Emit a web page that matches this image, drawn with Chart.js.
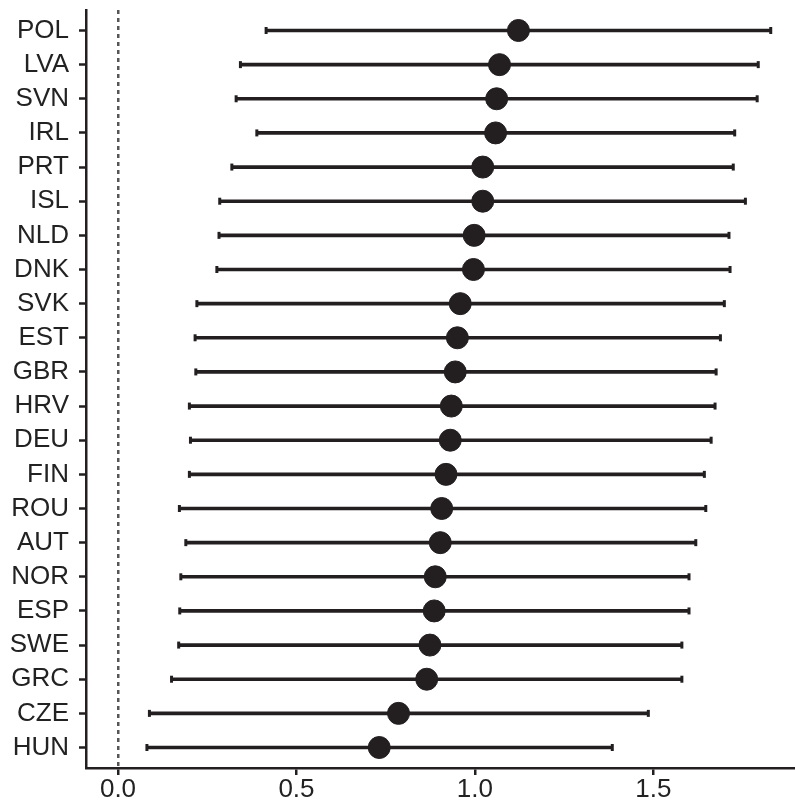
<!DOCTYPE html>
<html lang="en">
<head>
<meta charset="utf-8">
<script src="https://cdn.jsdelivr.net/npm/chart.js"></script>
<style>
  body { margin: 0; background: #fff; }
  canvas { display: block; }
</style>
</head>
<body>
  <canvas id="forestChart" width="795" height="805"></canvas>

<script>
    const countries = ['POL', 'LVA', 'SVN', 'IRL', 'PRT', 'ISL', 'NLD', 'DNK', 'SVK', 'EST', 'GBR',
                       'HRV', 'DEU', 'FIN', 'ROU', 'AUT', 'NOR', 'ESP', 'SWE', 'GRC', 'CZE', 'HUN']
    const estimate = [1.122, 1.069, 1.061, 1.058, 1.022, 1.022, 0.998, 0.996, 0.959, 0.951, 0.945,
                      0.934, 0.931, 0.919, 0.907, 0.903, 0.889, 0.886, 0.874, 0.865, 0.786, 0.732]
    const lower = [0.415, 0.343, 0.331, 0.389, 0.319, 0.285, 0.283, 0.277, 0.221, 0.216, 0.218,
                   0.200, 0.203, 0.200, 0.172, 0.190, 0.176, 0.173, 0.170, 0.150, 0.088, 0.081]
    const upper = [1.829, 1.794, 1.791, 1.728, 1.724, 1.758, 1.712, 1.715, 1.699, 1.688, 1.676,
                   1.673, 1.662, 1.643, 1.647, 1.619, 1.600, 1.600, 1.580, 1.580, 1.486, 1.385]
    const xTicks = [0, 0.5, 1.0, 1.5]

    const INK = '#231f20'
    const FONT = { family: "'Liberation Sans', Arial, sans-serif", size: 26 }

    const ctx = document.getElementById('forestChart')

    new Chart(ctx, {
      type: 'bar',
      data: {
        datasets: [
          {
            // whiskers
            data: countries.map((c, i) => ({ x: [lower[i], upper[i]], y: i })),
            backgroundColor: INK,
            borderWidth: 0,
            barThickness: 3,
            order: 3
          },
          {
            // lower caps
            type: 'line',
            data: countries.map((c, i) => ({ x: lower[i], y: i })),
            showLine: false,
            pointStyle: 'line',
            rotation: 90,
            pointRadius: 3.5,
            borderWidth: 3,
            borderColor: INK,
            order: 2
          },
          {
            // upper caps
            type: 'line',
            data: countries.map((c, i) => ({ x: upper[i], y: i })),
            showLine: false,
            pointStyle: 'line',
            rotation: 90,
            pointRadius: 3.5,
            borderWidth: 3,
            borderColor: INK,
            order: 2
          },
          {
            // point estimates
            type: 'line',
            data: countries.map((c, i) => ({ x: estimate[i], y: i })),
            showLine: false,
            pointRadius: 11,
            pointBackgroundColor: INK,
            pointBorderColor: INK,
            pointBorderWidth: 1,
            order: 1
          }
        ]
      },
      options: {
        indexAxis: 'y',
        responsive: false,
        animation: false,
        devicePixelRatio: 1,
        layout: { autoPadding: false, padding: { top: 10, right: 0, bottom: 0, left: 0 } },
        plugins: {
          legend: { display: false },
          tooltip: { enabled: false }
        },
        scales: {
          x: {
            type: 'linear',
            min: -0.0897,
            max: 1.897,
            afterBuildTicks: axis => { axis.ticks = xTicks.map(v => ({ value: v })) },
            afterFit: axis => {
              axis.height = 37
              axis.paddingLeft = 0
              axis.paddingRight = 0
            },
            ticks: {
              color: '#222',
              font: FONT,
              padding: -1,
              maxRotation: 0,
              autoSkip: false,
              callback: v => v.toFixed(1)
            },
            grid: {
              drawOnChartArea: true,
              color: c => (c.tick && c.tick.value === 0) ? '#555555' : 'rgba(0,0,0,0)',
              lineWidth: 2.5,
              tickColor: INK,
              tickLength: 7,
              tickWidth: 2.5
            },
            border: { display: true, color: INK, width: 2.5, dash: [4, 4] }
          },
          y: {
            type: 'linear',
            reverse: true,
            offset: false,
            min: -0.6,
            max: 21.6,
            afterBuildTicks: axis => { axis.ticks = countries.map((c, i) => ({ value: i })) },
            afterFit: axis => {
              axis.width = 86
              axis.paddingTop = 0
              axis.paddingBottom = 0
            },
            ticks: {
              color: '#222',
              font: FONT,
              padding: 10,
              autoSkip: false,
              callback: v => countries[v]
            },
            grid: {
              offset: false,
              drawOnChartArea: false,
              tickColor: INK,
              tickLength: 7,
              tickWidth: 2.5
            },
            border: { display: true, color: INK, width: 2.5 }
          }
        }
      }
    })
</script>
</body>
</html>
